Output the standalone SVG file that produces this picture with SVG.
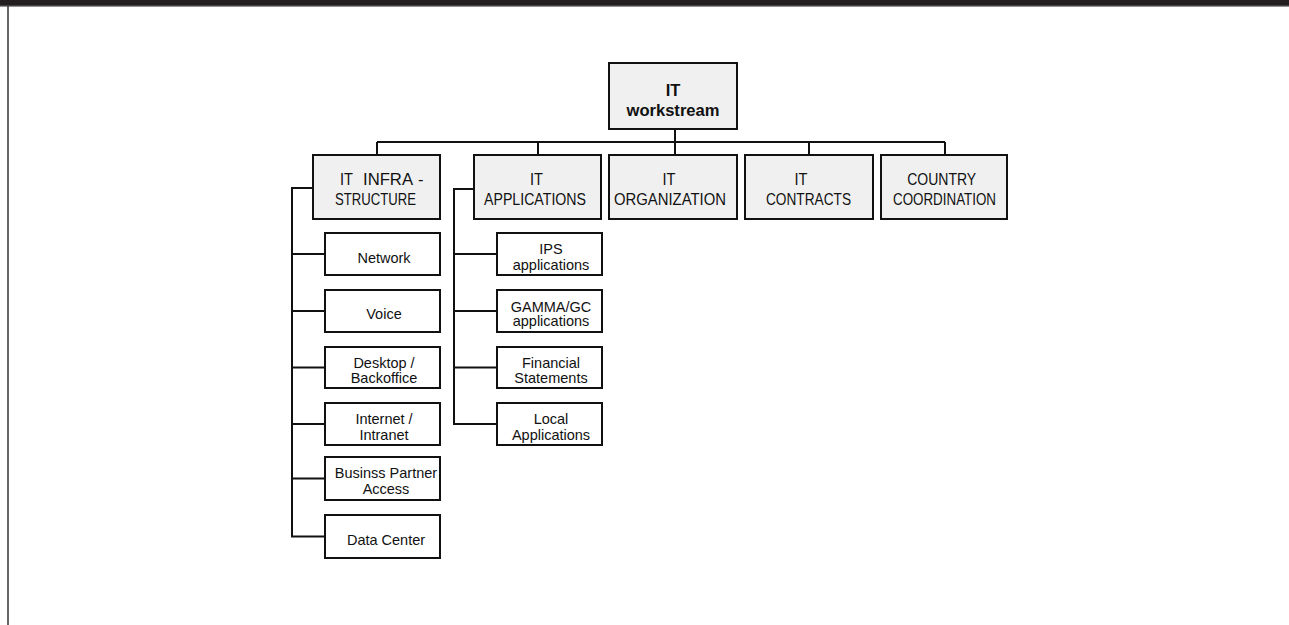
<svg xmlns="http://www.w3.org/2000/svg" width="1289" height="625" viewBox="0 0 1289 625">
<style>
text{font-family:"Liberation Sans",Arial,sans-serif;fill:#111;text-anchor:middle}
.b{font-weight:bold;font-size:16.5px}
.l2{font-size:16.5px}
.s{text-anchor:start}
.c{font-size:14.5px}
.g{fill:#f0f0f0;stroke:#111;stroke-width:2}
.w{fill:#fff;stroke:#111;stroke-width:2}
.k{fill:none;stroke:#111;stroke-width:2}
</style>
<rect x="0" y="0" width="1289" height="6" fill="#231f20"/>
<rect x="0" y="5.5" width="1289" height="1.2" fill="#666"/>
<line x1="8" y1="6" x2="8" y2="625" stroke="#333" stroke-width="1.5"/>
<g id="connectors" class="k">
<path class="k" d="M675 129V142M377 142H945M377 142V155M538 142V155M675 142V155M809 142V155M945 142V155"/>
<path class="k" d="M313 188H292V536.5H325M292 254H325M292 311H325M292 367.5H325M292 424H325M292 478.5H325"/>
<path class="k" d="M474 189H454V424H497M454 254H497M454 311H497M454 367.5H497"/>
</g>
<g id="n-workstream"><rect class="g" x="609" y="63" width="128" height="66"/><text class="b" x="673" y="96">IT</text><text class="b" x="673" y="116" textLength="93" lengthAdjust="spacingAndGlyphs">workstream</text></g>
<g id="n-infra"><rect class="g" x="313" y="155" width="127" height="64"/><text class="l2 s" x="340" y="185"><tspan x="340" textLength="13" lengthAdjust="spacingAndGlyphs">IT</tspan><tspan x="363" textLength="50" lengthAdjust="spacingAndGlyphs">INFRA</tspan><tspan x="418">-</tspan></text><text class="l2" x="375.5" y="205" textLength="81" lengthAdjust="spacingAndGlyphs">STRUCTURE</text></g>
<g id="n-apps"><rect class="g" x="474" y="155" width="127" height="64"/><text class="l2" x="536.5" y="185" textLength="13" lengthAdjust="spacingAndGlyphs">IT</text><text class="l2" x="535" y="205" textLength="102" lengthAdjust="spacingAndGlyphs">APPLICATIONS</text></g>
<g id="n-org"><rect class="g" x="609" y="155" width="128" height="64"/><text class="l2" x="669" y="185" textLength="13" lengthAdjust="spacingAndGlyphs">IT</text><text class="l2" x="670" y="205" textLength="112" lengthAdjust="spacingAndGlyphs">ORGANIZATION</text></g>
<g id="n-contracts"><rect class="g" x="745" y="155" width="128" height="64"/><text class="l2" x="801" y="185" textLength="13" lengthAdjust="spacingAndGlyphs">IT</text><text class="l2" x="808.5" y="205" textLength="85" lengthAdjust="spacingAndGlyphs">CONTRACTS</text></g>
<g id="n-country"><rect class="g" x="881" y="155" width="126" height="64"/><text class="l2" x="941.7" y="185" textLength="69" lengthAdjust="spacingAndGlyphs">COUNTRY</text><text class="l2" x="944.5" y="205" textLength="103" lengthAdjust="spacingAndGlyphs">COORDINATION</text></g>
<g id="n-network"><rect class="w" x="325" y="233" width="115" height="42"/><text class="c" x="384" y="263">Network</text></g>
<g id="n-voice"><rect class="w" x="325" y="290" width="115" height="42"/><text class="c" x="384" y="319">Voice</text></g>
<g id="n-desktop"><rect class="w" x="325" y="347" width="115" height="41"/><text class="c" x="384" y="367.5">Desktop /</text><text class="c" x="384" y="383">Backoffice</text></g>
<g id="n-internet"><rect class="w" x="325" y="403" width="115" height="42"/><text class="c" x="384" y="424">Internet /</text><text class="c" x="384" y="440">Intranet</text></g>
<g id="n-business"><rect class="w" x="325" y="457" width="115" height="43"/><text class="c" x="386" y="478">Businss Partner</text><text class="c" x="386" y="494">Access</text></g>
<g id="n-datacenter"><rect class="w" x="325" y="515" width="115" height="43"/><text class="c" x="386" y="545">Data Center</text></g>
<g id="n-ips"><rect class="w" x="497" y="233" width="105" height="42"/><text class="c" x="551" y="254">IPS</text><text class="c" x="551" y="269.5">applications</text></g>
<g id="n-gamma"><rect class="w" x="497" y="290" width="105" height="42"/><text class="c" x="551" y="311.5">GAMMA/GC</text><text class="c" x="551" y="326">applications</text></g>
<g id="n-financial"><rect class="w" x="497" y="347" width="105" height="41"/><text class="c" x="551" y="367.5">Financial</text><text class="c" x="551" y="383">Statements</text></g>
<g id="n-local"><rect class="w" x="497" y="403" width="105" height="42"/><text class="c" x="551" y="424">Local</text><text class="c" x="551" y="440">Applications</text></g>
</svg>
